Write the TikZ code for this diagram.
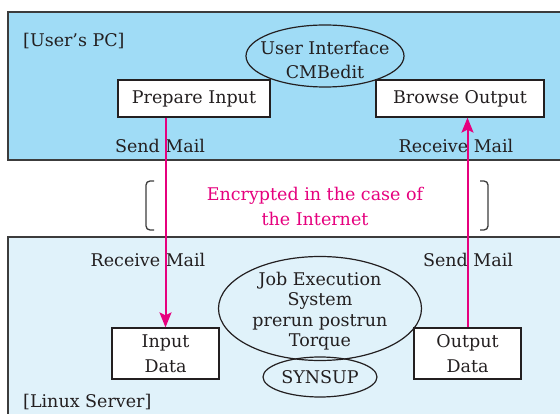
\documentclass[tikz,border=0pt]{standalone}
\usepackage{fontspec}
\setmainfont{DejaVu Serif}
\usepackage{tikz}
\usetikzlibrary{shapes.geometric,arrows.meta}
\definecolor{topblue}{RGB}{160,220,246}
\definecolor{botblue}{RGB}{224,242,250}
\definecolor{ink}{RGB}{35,31,32}
\definecolor{mag}{RGB}{230,0,126}
\definecolor{edge}{RGB}{60,60,60}
\tikzset{
  txt/.style={text=ink, font=\fontsize{17.5}{24}\selectfont, inner sep=0pt},
  ebox/.style={txt, draw=ink, line width=1.2pt, fill=white, rectangle, align=center},
  eell/.style={txt, draw=ink, line width=1.2pt, ellipse, inner sep=0pt, align=center},
  region/.style={draw=edge, line width=1.2pt},
  arr/.style={draw=mag, line width=2pt, -{Stealth[length=15pt,width=12pt,inset=3pt]}},
  brk/.style={draw=edge, line width=1.3pt, rounded corners=4pt},
}
\begin{document}
\begin{tikzpicture}[x=1pt,y=-1pt]
\useasboundingbox (0,0) rectangle (560,414);
\clip (0,0) rectangle (560,414);
\fill[white] (0,0) rectangle (560,414);
% regions
\draw[region, fill=topblue] (8,12) rectangle (570,160);
\draw[region, fill=botblue] (8,237) rectangle (570,425);
\node[txt, anchor=base west] (pc) at (23,47) {[User's PC]};
\node[txt, anchor=base west] (ls) at (23,407) {[Linux Server]};
% top nodes
\node[eell, minimum width=158pt, minimum height=62pt] (ui) at (325,56) {};
\node[txt, align=center, font=\fontsize{17.5}{23.5}\selectfont] (uit) at (325,60) {User Interface\\CMBedit};
\node[ebox, minimum width=152pt, minimum height=37pt] (pi) at (194,98.5) {Prepare Input};
\node[ebox, minimum width=168pt, minimum height=37pt] (bo) at (460,98.5) {Browse Output};
% bottom nodes
\node[ebox, minimum width=107pt, minimum height=51pt, font=\fontsize{17.5}{25}\selectfont] (in) at (165.5,353.5) {Input\\Data};
\node[ebox, minimum width=107pt, minimum height=51pt, font=\fontsize{17.5}{25}\selectfont] (out) at (467.5,353.5) {Output\\Data};
\node[eell, minimum width=203pt, minimum height=104pt] (jes) at (320,308.5) {};
\node[txt, align=center, font=\fontsize{17.5}{20.5}\selectfont] (jest) at (320,311) {Job Execution\\System\\prerun postrun\\Torque};
\node[eell, minimum width=114pt, minimum height=40pt] (syn) at (320,377) {SYNSUP};
% labels
\node[txt] (sm1) at (160,146) {Send Mail};
\node[txt] (rm1) at (456,146) {Receive Mail};
\node[txt] (rm2) at (148,260) {Receive Mail};
\node[txt] (sm2) at (468,260) {Send Mail};
\node[txt, text=mag, align=center, font=\fontsize{17.5}{25}\selectfont] (enc) at (315,206) {Encrypted in the case of\\the Internet};
% brackets
\coordinate (bl1) at (154,181); \coordinate (bl2) at (154,230);
\coordinate (br1) at (480,181); \coordinate (br2) at (480,230);
\draw[brk] (bl1) -- ++(-8,0) -- ++(0,49) -- (bl2);
\draw[brk] (br1) -- ++(8,0) -- ++(0,49) -- (br2);
% connectors
\draw[arr] (in.north |- pi.south) -- (in.north);
\draw[arr] (out.north) -- (out.north |- bo.south);
\end{tikzpicture}
\end{document}
